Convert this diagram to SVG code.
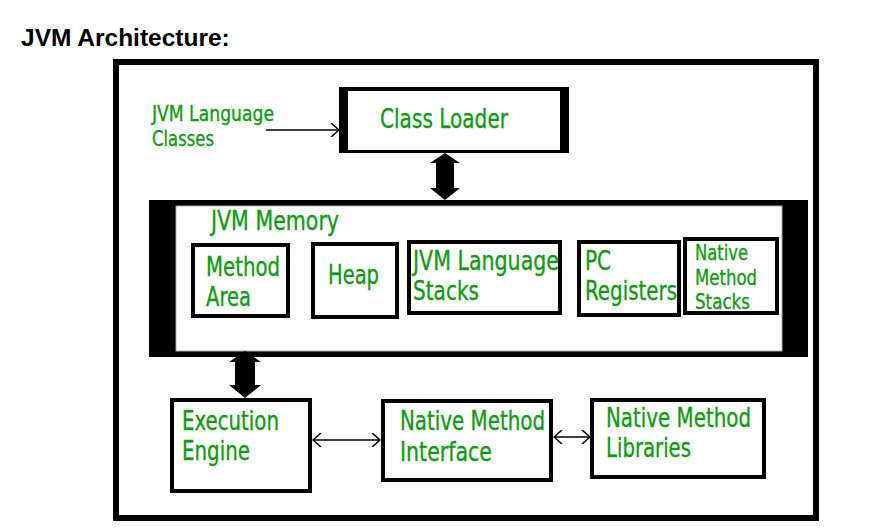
<svg xmlns="http://www.w3.org/2000/svg" width="873" height="532" viewBox="0 0 873 532">
<defs>
<style>
.t{font-family:"DejaVu Sans Condensed","DejaVu Sans",sans-serif;fill:#119b11;stroke:#119b11;stroke-width:0.35;}
.big{font-size:26px;}
.sm{font-size:21px;}
.box{fill:#fff;stroke:#000;stroke-width:4;}
.conn{stroke:#000;stroke-width:1.5;fill:none;}
</style>
<marker id="chev" viewBox="0 0 10 14" refX="9" refY="7" markerWidth="10" markerHeight="14" markerUnits="userSpaceOnUse" orient="auto-start-reverse">
<path d="M1,0 L9,7 L1,14" fill="none" stroke="#000" stroke-width="1.5"/>
</marker>
</defs>
<rect width="873" height="532" fill="#fff"/>
<text x="21" y="46" font-family="'Liberation Sans',Arial,sans-serif" font-weight="bold" font-size="24.5" fill="#000">JVM Architecture:</text>
<rect id="frame" x="116" y="62" width="700" height="456" fill="none" stroke="#000" stroke-width="6"/>

<g id="input-label">
<text class="t sm" x="152" y="121" textLength="122" lengthAdjust="spacingAndGlyphs">JVM Language</text>
<text class="t sm" x="152" y="146" textLength="62" lengthAdjust="spacingAndGlyphs">Classes</text>
</g>

<g id="class-loader">
<rect x="339" y="87" width="230" height="66" fill="#000"/>
<rect x="348" y="91" width="212" height="59" fill="#fff"/>
<text class="t big" x="380" y="128" textLength="128" lengthAdjust="spacingAndGlyphs">Class Loader</text>
</g>

<g id="jvm-memory">
<rect x="149" y="200" width="659" height="157" fill="#000"/>
<rect x="176" y="206" width="606" height="145" fill="#fff" stroke="#aaa" stroke-width="1"/>
<text class="t big" x="211" y="230" textLength="128" lengthAdjust="spacingAndGlyphs">JVM Memory</text>
</g>

<g id="method-area">
<rect class="box" x="193" y="245" width="95" height="71"/>
<text class="t big" x="206" y="276" textLength="74" lengthAdjust="spacingAndGlyphs">Method</text>
<text class="t big" x="206" y="306" textLength="45" lengthAdjust="spacingAndGlyphs">Area</text>
</g>

<g id="heap">
<rect class="box" x="313" y="244" width="84" height="73" stroke-width="3"/>
<text class="t big" x="328" y="284" textLength="51" lengthAdjust="spacingAndGlyphs">Heap</text>
</g>

<g id="jvm-stacks">
<rect class="box" x="409" y="242" width="151" height="71"/>
<text class="t big" x="413" y="270" textLength="146" lengthAdjust="spacingAndGlyphs">JVM Language</text>
<text class="t big" x="413" y="300" textLength="66" lengthAdjust="spacingAndGlyphs">Stacks</text>
</g>

<g id="pc-registers">
<rect class="box" x="579" y="242" width="100" height="73"/>
<text class="t big" x="585" y="270" textLength="26" lengthAdjust="spacingAndGlyphs">PC</text>
<text class="t big" x="585" y="300" textLength="92" lengthAdjust="spacingAndGlyphs">Registers</text>
</g>

<g id="native-stacks">
<rect class="box" x="685" y="239" width="92" height="74" stroke-width="3"/>
<text class="t sm" x="695" y="260" textLength="53" lengthAdjust="spacingAndGlyphs">Native</text>
<text class="t sm" x="695" y="285" textLength="62" lengthAdjust="spacingAndGlyphs">Method</text>
<text class="t sm" x="695" y="309" textLength="55" lengthAdjust="spacingAndGlyphs">Stacks</text>
</g>

<g id="execution-engine">
<rect class="box" x="172" y="400" width="138" height="91"/>
<text class="t big" x="182" y="430" textLength="97" lengthAdjust="spacingAndGlyphs">Execution</text>
<text class="t big" x="182" y="460" textLength="68" lengthAdjust="spacingAndGlyphs">Engine</text>
</g>

<g id="native-interface">
<rect class="box" x="383" y="401" width="168" height="79"/>
<text class="t big" x="400" y="430" textLength="145" lengthAdjust="spacingAndGlyphs">Native Method</text>
<text class="t big" x="400" y="461" textLength="92" lengthAdjust="spacingAndGlyphs">Interface</text>
</g>

<g id="native-libraries">
<rect class="box" x="592" y="400" width="172" height="77"/>
<text class="t big" x="606" y="427" textLength="145" lengthAdjust="spacingAndGlyphs">Native Method</text>
<text class="t big" x="606" y="457" textLength="85" lengthAdjust="spacingAndGlyphs">Libraries</text>
</g>

<g id="connectors">
<line class="conn" x1="266" y1="130" x2="339" y2="130" marker-end="url(#chev)"/>
<polygon points="445,153 460,163 454,163 454,188 460,188 445,200 430,188 436,188 436,163 430,163" fill="#000"/>
<polygon points="245,351 261,362 255,362 255,385 261,385 245,398 229,385 235,385 235,362 229,362" fill="#000"/>
<line class="conn" x1="313" y1="440" x2="380" y2="440" marker-start="url(#chev)" marker-end="url(#chev)"/>
<line class="conn" x1="554" y1="437" x2="590" y2="437" marker-start="url(#chev)" marker-end="url(#chev)"/>
</g>
</svg>
